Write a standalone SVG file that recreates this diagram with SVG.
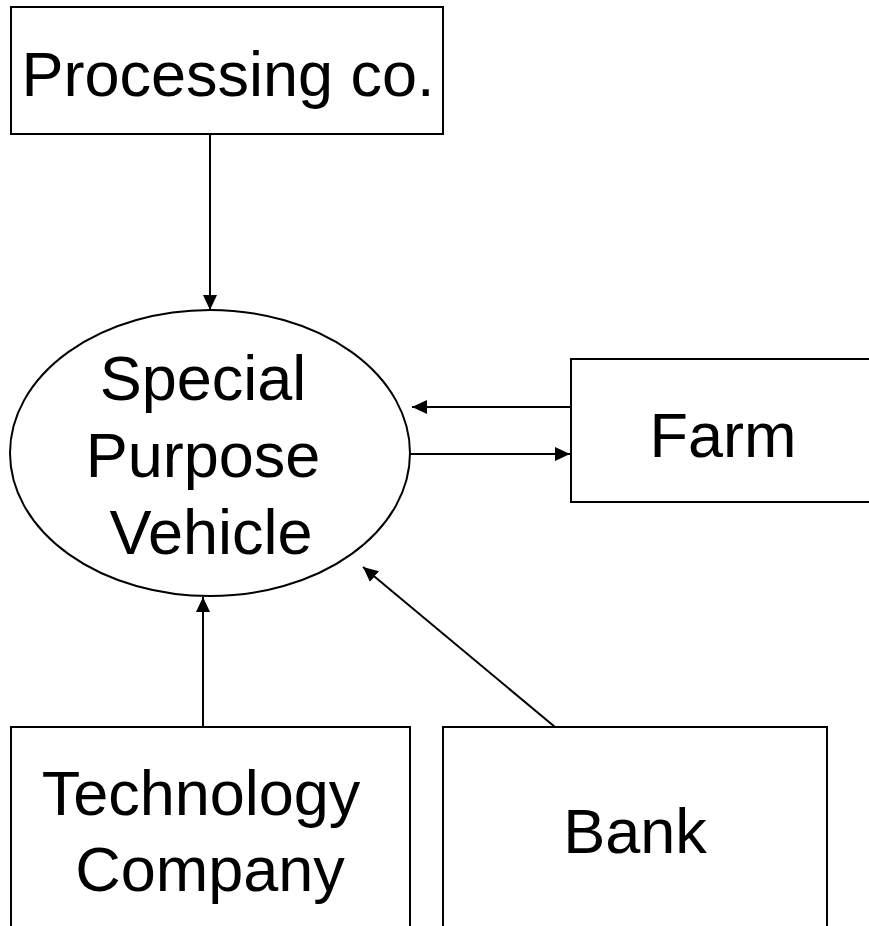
<svg xmlns="http://www.w3.org/2000/svg" width="869" height="926" viewBox="0 0 869 926">
<defs>
<marker id="ah" viewBox="0 0 15 14" refX="15" refY="7" markerWidth="15" markerHeight="14" markerUnits="userSpaceOnUse" orient="auto">
<path d="M0,0 L15,7 L0,14 Z" fill="#000"/>
</marker>
</defs>
<style>
.box{fill:#fff;stroke:#000;stroke-width:2}
.t{font-family:"Liberation Sans",Arial,sans-serif;font-size:63px;fill:#000;text-anchor:middle}
.c{stroke:#000;stroke-width:2;fill:none;marker-end:url(#ah)}
</style>
<rect width="869" height="926" fill="#fff"/>
<g id="processing">
<rect class="box" x="11" y="7" width="432" height="127"/>
<text class="t" x="228" y="96">Processing co.</text>
</g>
<g id="spv">
<ellipse class="box" cx="210" cy="453" rx="200" ry="143"/>
<text class="t" x="203" y="400">Special</text>
<text class="t" x="203" y="477">Purpose</text>
<text class="t" x="211" y="554">Vehicle</text>
</g>
<g id="farm">
<rect class="box" x="571" y="359" width="310" height="143"/>
<text class="t" x="723" y="457">Farm</text>
</g>
<g id="technology">
<rect class="box" x="11" y="727" width="399" height="220"/>
<text class="t" x="201" y="815">Technology</text>
<text class="t" x="210" y="891">Company</text>
</g>
<g id="bank">
<rect class="box" x="443" y="727" width="384" height="220"/>
<text class="t" x="635" y="853">Bank</text>
</g>
<g id="connectors">
<line class="c" x1="210" y1="134" x2="210" y2="310"/>
<line class="c" x1="571" y1="407" x2="412" y2="407"/>
<line class="c" x1="411" y1="454" x2="570" y2="454"/>
<line class="c" x1="203" y1="727" x2="203" y2="597"/>
<line class="c" x1="555" y1="727" x2="363" y2="567"/>
</g>
</svg>
